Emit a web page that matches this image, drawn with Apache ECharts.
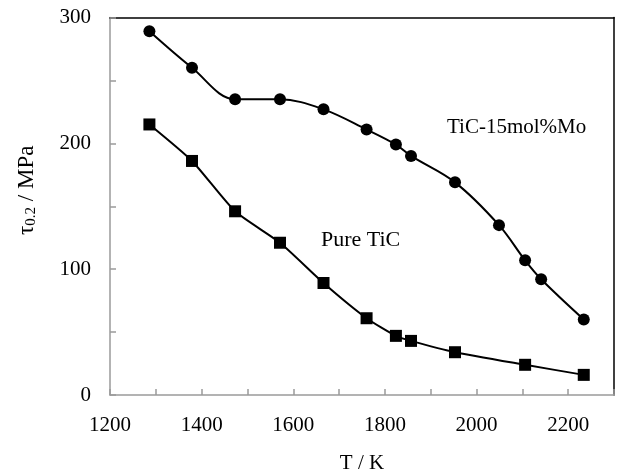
<!DOCTYPE html>
<html>
<head>
<meta charset="utf-8">
<script src="https://cdn.jsdelivr.net/npm/echarts@6/dist/echarts.min.js"></script>
<style>
  html, body { margin: 0; padding: 0; background: #fff; }
  #chart { width: 621px; height: 476px; }
</style>
</head>
<body>
<div id="chart"></div>
<script>
// temperatures (K) and yield stress (MPa)
const moTemps = [1286, 1379, 1473, 1571, 1666, 1760, 1824, 1857, 1953, 2049, 2106, 2141, 2234]
const moStress = [289, 260, 235, 235, 227, 211, 199, 190, 169, 135, 107, 92, 60]
const pureTemps = [1286, 1379, 1473, 1571, 1666, 1760, 1824, 1857, 1953, 2106, 2234]
const pureStress = [215, 186, 146, 121, 89, 61, 47, 43, 34, 24, 16]
const xTickLabels = [1200, 1400, 1600, 1800, 2000, 2200]
const yTickLabels = [0, 100, 200, 300]

const font = 'Liberation Serif, Times New Roman, serif'
const gray = '#9a9a9a'

const pairs = (xs, ys) => xs.map((x, i) => [x, ys[i]])

const chart = echarts.init(document.getElementById('chart'))
chart.setOption({
  animation: false,
  grid: { left: 110, right: 7, top: 17.5, bottom: 81, containLabel: false, outerBoundsMode: 'none' },
  xAxis: [
    {
      type: 'value', min: 1200, max: 2300, interval: 100,
      name: 'T / K', nameLocation: 'middle', nameGap: 58,
      nameTextStyle: { fontFamily: font, fontSize: 21, color: '#000' },
      axisLine: { lineStyle: { color: gray, width: 1.5 } },
      axisTick: { inside: true, length: 6, lineStyle: { color: gray, width: 1.5 } },
      axisLabel: {
        fontFamily: font, fontSize: 21, color: '#000', margin: 20,
        formatter: v => xTickLabels.includes(v) ? String(v) : ''
      },
      splitLine: { show: false }
    },
    {
      type: 'value', min: 1200, max: 2300, position: 'top',
      axisLine: { show: true, onZero: false, lineStyle: { color: '#000', width: 1.5 } },
      axisTick: { show: false }, axisLabel: { show: false }, splitLine: { show: false }
    }
  ],
  yAxis: [
    {
      type: 'value', min: 0, max: 300, interval: 50,
      name: 'τ{sub|0.2} / MPa', nameLocation: 'middle', nameGap: 71,
      nameTextStyle: {
        fontFamily: font, fontSize: 23, color: '#000', padding: [0, 0, 0, 32],
        rich: { sub: { fontFamily: font, fontSize: 15, color: '#000', verticalAlign: 'bottom', padding: [9, 0, 0, 0] } }
      },
      axisLine: { show: true, lineStyle: { color: gray, width: 1.5 } },
      axisTick: { show: true, inside: true, length: 6, lineStyle: { color: gray, width: 1.5 } },
      axisLabel: {
        fontFamily: font, fontSize: 21, color: '#000', margin: 19,
        formatter: v => yTickLabels.includes(v) ? String(v) : ''
      },
      splitLine: { show: false }
    },
    {
      type: 'value', min: 0, max: 300, position: 'right',
      axisLine: { show: true, onZero: false, lineStyle: { color: '#000', width: 1.5 } },
      axisTick: { show: false }, axisLabel: { show: false }, splitLine: { show: false }
    }
  ],
  series: [
    {
      name: 'TiC-15mol%Mo', type: 'line', smooth: 0.35,
      data: pairs(moTemps, moStress),
      symbol: 'circle', symbolSize: 12,
      itemStyle: { color: '#000' },
      lineStyle: { color: '#000', width: 2 }
    },
    {
      name: 'Pure TiC', type: 'line', smooth: 0.2,
      data: pairs(pureTemps, pureStress),
      symbol: 'rect', symbolSize: 12,
      itemStyle: { color: '#000' },
      lineStyle: { color: '#000', width: 2 }
    }
  ],
  graphic: [
    { type: 'text', left: 447, top: 117, style: { text: 'TiC-15mol%Mo', font: '21px ' + font, fill: '#000' } },
    { type: 'text', left: 321, top: 229, style: { text: 'Pure TiC', font: '22px ' + font, fill: '#000' } }
  ]
})
</script>
</body>
</html>
